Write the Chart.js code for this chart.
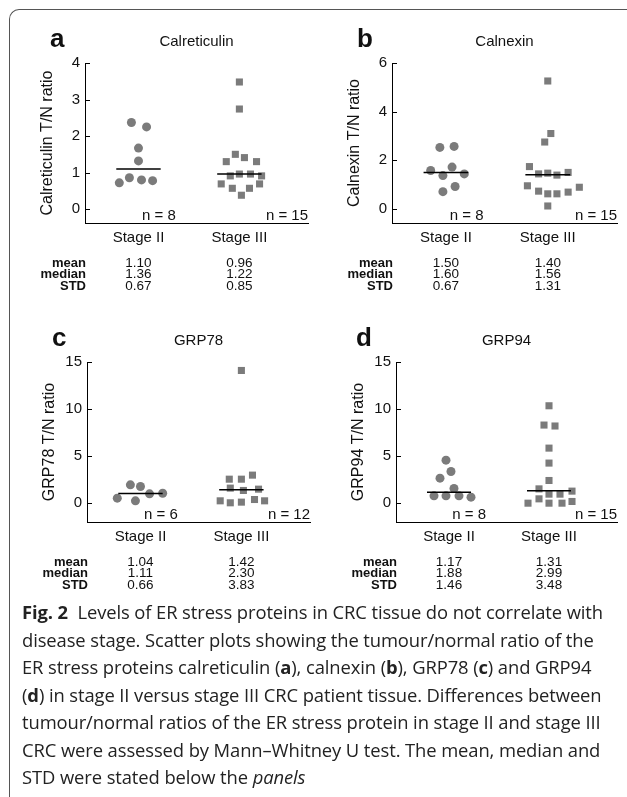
<!DOCTYPE html>
<html>
<head>
<meta charset="utf-8">
<script src="https://cdn.jsdelivr.net/npm/chart.js@4.4.1/dist/chart.umd.min.js"></script>
<style>
    body { margin: 0; background: #fff; width: 627px; height: 797px; overflow: hidden; position: relative; }
    .frame { position: absolute; left: 9px; top: 9px; width: 700px; height: 900px;
             border-left: 1px solid #555; border-top: 1px solid #555; border-top-left-radius: 10px; }
    canvas { position: absolute; }
    .caption { position: absolute; left: 22px; top: 598px; font-family: "Open Sans", sans-serif;
               font-size: 18.4px; line-height: 27.5px; color: #222; white-space: nowrap; letter-spacing: -0.1px; }
    .caption b { font-weight: 700; }
</style>
</head>
<body>
<div class="frame"></div>
<canvas id="calreticulinChart" width="313" height="285" style="left:0;top:20px"></canvas>
<canvas id="calnexinChart" width="315" height="285" style="left:307px;top:20px"></canvas>
<canvas id="grp78Chart" width="313" height="285" style="left:2px;top:319px"></canvas>
<canvas id="grp94Chart" width="311" height="285" style="left:311px;top:319px"></canvas>

<div class="caption">
<b>Fig. 2</b>&nbsp; Levels of ER stress proteins in CRC tissue do not correlate with<br>
disease stage. Scatter plots showing the tumour/normal ratio of the<br>
ER stress proteins calreticulin (<b>a</b>), calnexin (<b>b</b>), GRP78 (<b>c</b>) and GRP94<br>
(<b>d</b>) in stage II versus stage III CRC patient tissue. Differences between<br>
tumour/normal ratios of the ER stress protein in stage II and stage III<br>
CRC were assessed by Mann–Whitney U test. The mean, median and<br>
STD were stated below the <i>panels</i>
</div>

<script>
const stages = ['Stage II', 'Stage III'];
const statLabels = ['mean', 'median', 'STD'];

// a - Calreticulin
const calrStageII = [2.37, 2.25, 1.67, 1.32, 0.72, 0.86, 0.80, 0.78];
const calrStageIIJitter = [-0.07, 0.08, 0, 0, -0.19, -0.09, 0.03, 0.14];
const calrStageIII = [3.48, 2.74, 1.50, 1.41, 1.30, 1.30, 0.91, 0.96, 0.96, 0.91, 0.69, 0.69, 0.57, 0.57, 0.38];
const calrStageIIIJitter = [0, 0, -0.04, 0.05, -0.13, 0.17, -0.09, 0, 0.11, 0.22, -0.18, 0.20, -0.07, 0.10, 0.02];
const calrMean = [1.10, 0.96];
const calrMedian = [1.36, 1.22];
const calrStd = [0.67, 0.85];
const calrN = [8, 15];
const calrTicks = [0, 1, 2, 3, 4];

// b - Calnexin
const calnStageII = [2.53, 2.57, 1.58, 1.72, 1.37, 1.44, 0.92, 0.71];
const calnStageIIJitter = [-0.06, 0.08, -0.15, 0.06, -0.03, 0.18, 0.09, -0.03];
const calnStageIII = [5.26, 3.10, 2.75, 1.74, 1.44, 1.47, 1.39, 1.50, 0.95, 0.89, 0.73, 0.62, 0.62, 0.69, 0.12];
const calnStageIIIJitter = [0, 0.03, -0.03, -0.18, -0.09, 0, 0.09, 0.20, -0.20, 0.31, -0.09, 0, 0.09, 0.20, 0];
const calnMean = [1.50, 1.40];
const calnMedian = [1.60, 1.56];
const calnStd = [0.67, 1.31];
const calnN = [8, 15];
const calnTicks = [0, 2, 4, 6];

// c - GRP78
const grp78StageII = [1.95, 1.77, 0.53, 0.25, 0.99, 1.06];
const grp78StageIIJitter = [-0.10, 0, -0.23, -0.05, 0.09, 0.22];
const grp78StageIII = [14.1, 2.55, 2.55, 2.98, 1.60, 1.35, 1.49, 0.25, 0.04, 0.11, 0.39, 0.25];
const grp78StageIIIJitter = [0, -0.12, 0, 0.11, -0.11, 0.02, 0.17, -0.21, -0.11, 0, 0.13, 0.23];
const grp78Mean = [1.04, 1.42];
const grp78Median = [1.11, 2.30];
const grp78Std = [0.66, 3.83];
const grp78N = [6, 12];
const grp78Ticks = [0, 5, 10, 15];

// d - GRP94
const grp94StageII = [4.57, 3.37, 2.66, 1.56, 0.78, 0.78, 0.78, 0.64];
const grp94StageIIJitter = [-0.03, 0.02, -0.09, 0.05, -0.15, -0.03, 0.10, 0.22];
const grp94StageIII = [10.35, 8.3, 8.2, 5.85, 4.26, 2.41, 1.52, 1.28, 0.96, 0.96, 0, 0.46, 0, 0, 0.18];
const grp94StageIIIJitter = [0, -0.05, 0.06, 0, 0, 0, -0.10, 0.23, 0, 0.11, -0.21, -0.10, 0, 0.13, 0.23];
const grp94Mean = [1.17, 1.31];
const grp94Median = [1.88, 2.99];
const grp94Std = [1.46, 3.48];
const grp94N = [8, 15];
const grp94Ticks = [0, 5, 10, 15];

const FONT = '"Liberation Sans", Arial, sans-serif';
const POINT_COLOR = '#7b7b7b';
const TEXT_COLOR = '#111';

// draws panel letter, title, inward ticks, n labels and the stats block
const panelDecor = {
    id: 'panelDecor',
    afterDraw(chart, args, opts) {
        const ctx = chart.ctx;
        const area = chart.chartArea;
        const x = chart.scales.x;
        const y = chart.scales.y;
        ctx.save();
        ctx.fillStyle = TEXT_COLOR;
        ctx.textBaseline = 'middle';

        ctx.font = 'bold 26px ' + FONT;
        ctx.textAlign = 'left';
        ctx.fillText(opts.letter, opts.letterX, area.top - 23);

        ctx.font = '15px ' + FONT;
        ctx.textAlign = 'center';
        ctx.fillText(opts.title, (area.left + area.right) / 2, area.top - 21);

        // inward tick marks on the y axis
        ctx.strokeStyle = '#000';
        ctx.lineWidth = 1;
        y.ticks.forEach(t => {
            const py = Math.round(y.getPixelForValue(t.value)) + 0.5;
            ctx.beginPath();
            ctx.moveTo(area.left, py);
            ctx.lineTo(area.left + 5, py);
            ctx.stroke();
        });

        // n = ... labels
        ctx.textAlign = 'right';
        ctx.textBaseline = 'alphabetic';
        ctx.fillText('n = ' + opts.n[0], x.getPixelForValue(1.37), area.bottom - 3);
        ctx.fillText('n = ' + opts.n[1], area.right, area.bottom - 3);

        // stats block
        ctx.textBaseline = 'middle';
        const rows = [opts.mean, opts.median, opts.std];
        rows.forEach((vals, r) => {
            const ry = area.bottom + 40 + r * 11.5;
            ctx.font = 'bold 13px ' + FONT;
            ctx.textAlign = 'right';
            ctx.fillText(statLabels[r], area.left + 1, ry);
            ctx.font = '13.5px ' + FONT;
            ctx.textAlign = 'center';
            vals.forEach((v, i) => ctx.fillText(v.toFixed(2), x.getPixelForValue(i + 1), ry));
        });
        ctx.restore();
    }
};

function jittered(values, jitter, stage) {
    return values.map((v, i) => ({ x: stage + jitter[i], y: v }));
}

function meanLine(mean, stage) {
    return [{ x: stage - 0.22, y: mean }, { x: stage + 0.22, y: mean }];
}

function createPanel(canvasId, cfg) {
    const ctx = document.getElementById(canvasId);
    return new Chart(ctx, {
        type: 'scatter',
        data: {
            datasets: [{
                data: meanLine(cfg.mean[0], 1),
                showLine: true, borderColor: '#000', borderWidth: 1.5, pointRadius: 0
            }, {
                data: meanLine(cfg.mean[1], 2),
                showLine: true, borderColor: '#000', borderWidth: 1.5, pointRadius: 0
            }, {
                data: jittered(cfg.stageII, cfg.stageIIJitter, 1),
                pointStyle: 'circle', radius: 4.5, backgroundColor: POINT_COLOR, borderWidth: 0
            }, {
                data: jittered(cfg.stageIII, cfg.stageIIIJitter, 2),
                pointStyle: 'rect', radius: 5, backgroundColor: POINT_COLOR, borderWidth: 0
            }]
        },
        options: {
            responsive: false,
            animation: false,
            events: [],
            clip: false,
            layout: { padding: { left: 34, top: 43, right: cfg.padRight, bottom: 60 } },
            plugins: {
                legend: { display: false },
                tooltip: { enabled: false },
                panelDecor: {
                    letter: cfg.letter, letterX: cfg.letterX, title: cfg.title, n: cfg.n,
                    mean: cfg.mean, median: cfg.median, std: cfg.std
                }
            },
            scales: {
                x: {
                    type: 'linear', min: 0.47, max: 2.68,
                    grid: { display: false, drawTicks: false },
                    border: { display: true, color: '#000', width: 1 },
                    afterBuildTicks: s => { s.ticks = [{ value: 1 }, { value: 2 }]; },
                    afterFit: s => { s.height = 22; },
                    ticks: {
                        padding: 6, color: TEXT_COLOR, font: { family: FONT, size: 15 },
                        maxRotation: 0, autoSkip: false,
                        callback: (v, i) => stages[i]
                    }
                },
                y: {
                    min: cfg.yMin, max: cfg.ticks[cfg.ticks.length - 1],
                    grid: { display: false, drawTicks: false },
                    border: { display: true, color: '#000', width: 1 },
                    afterBuildTicks: s => { s.ticks = cfg.ticks.map(v => ({ value: v })); },
                    afterFit: s => { s.width = 51; },
                    ticks: { padding: 5, color: TEXT_COLOR, font: { family: FONT, size: 15 } },
                    title: {
                        display: true, text: cfg.yTitle, color: TEXT_COLOR,
                        font: { family: FONT, size: 16 }, padding: { top: 4, bottom: 0 }
                    }
                }
            }
        },
        plugins: [panelDecor]
    });
}

createPanel('calreticulinChart', {
    letter: 'a', letterX: 50, title: 'Calreticulin', yTitle: 'Calreticulin T/N ratio',
    stageII: calrStageII, stageIIJitter: calrStageIIJitter,
    stageIII: calrStageIII, stageIIIJitter: calrStageIIIJitter,
    mean: calrMean, median: calrMedian, std: calrStd, n: calrN,
    ticks: calrTicks, yMin: -0.38, padRight: 5
});

createPanel('calnexinChart', {
    letter: 'b', letterX: 50, title: 'Calnexin', yTitle: 'Calnexin T/N ratio',
    stageII: calnStageII, stageIIJitter: calnStageIIJitter,
    stageIII: calnStageIII, stageIIIJitter: calnStageIIIJitter,
    mean: calnMean, median: calnMedian, std: calnStd, n: calnN,
    ticks: calnTicks, yMin: -0.58, padRight: 5
});

createPanel('grp78Chart', {
    letter: 'c', letterX: 50, title: 'GRP78', yTitle: 'GRP78 T/N ratio',
    stageII: grp78StageII, stageIIJitter: grp78StageIIJitter,
    stageIII: grp78StageIII, stageIIIJitter: grp78StageIIIJitter,
    mean: grp78Mean, median: grp78Median, std: grp78Std, n: grp78N,
    ticks: grp78Ticks, yMin: -2.0, padRight: 5
});

createPanel('grp94Chart', {
    letter: 'd', letterX: 45, title: 'GRP94', yTitle: 'GRP94 T/N ratio',
    stageII: grp94StageII, stageIIJitter: grp94StageIIJitter,
    stageIII: grp94StageIII, stageIIIJitter: grp94StageIIIJitter,
    mean: grp94Mean, median: grp94Median, std: grp94Std, n: grp94N,
    ticks: grp94Ticks, yMin: -2.0, padRight: 5
});
</script>
</body>
</html>
